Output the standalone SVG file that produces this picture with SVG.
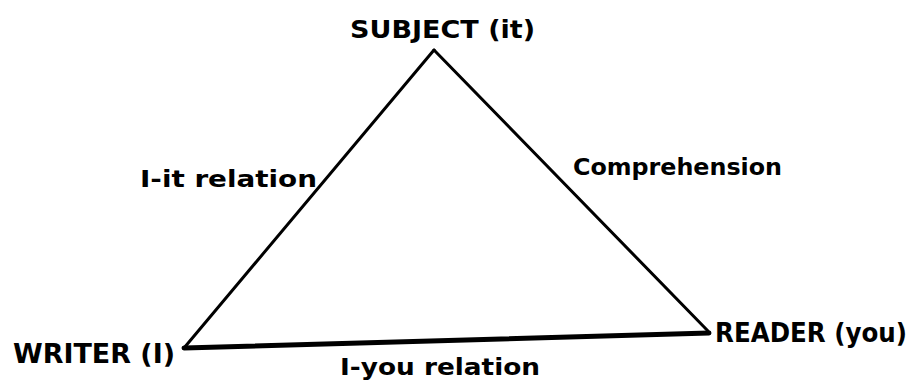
<svg xmlns="http://www.w3.org/2000/svg" width="920" height="383" viewBox="0 0 920 383">
<style>
.t{font-family:"DejaVu Sans Condensed","DejaVu Sans","Liberation Sans",sans-serif;font-weight:bold;fill:#000}
.e{stroke:#000;fill:none;stroke-linecap:round;stroke-linejoin:round}
</style>
<rect width="920" height="383" fill="#fff"/>
<g id="connectors">
<line class="e" x1="434" y1="50" x2="184" y2="348" stroke-width="3"/>
<line class="e" x1="434" y1="50" x2="708" y2="331" stroke-width="3"/>
<line class="e" x1="184" y1="348" x2="709" y2="333" stroke-width="5"/>
</g>
<g id="subject"><text class="t" x="350" y="38" font-size="24" textLength="185" lengthAdjust="spacingAndGlyphs">SUBJECT (it)</text></g>
<g id="writer"><text class="t" x="13" y="363" font-size="26" textLength="162" lengthAdjust="spacingAndGlyphs">WRITER (I)</text></g>
<g id="reader"><text class="t" x="715" y="342" font-size="26" textLength="192" lengthAdjust="spacingAndGlyphs">READER (you)</text></g>
<g id="label-i-it"><text class="t" x="140" y="187" font-size="23" textLength="177" lengthAdjust="spacingAndGlyphs">I-it relation</text></g>
<g id="label-comprehension"><text class="t" x="573" y="175" font-size="23" textLength="209" lengthAdjust="spacingAndGlyphs">Comprehension</text></g>
<g id="label-i-you"><text class="t" x="340" y="375" font-size="23" textLength="200" lengthAdjust="spacingAndGlyphs">I-you relation</text></g>
</svg>
